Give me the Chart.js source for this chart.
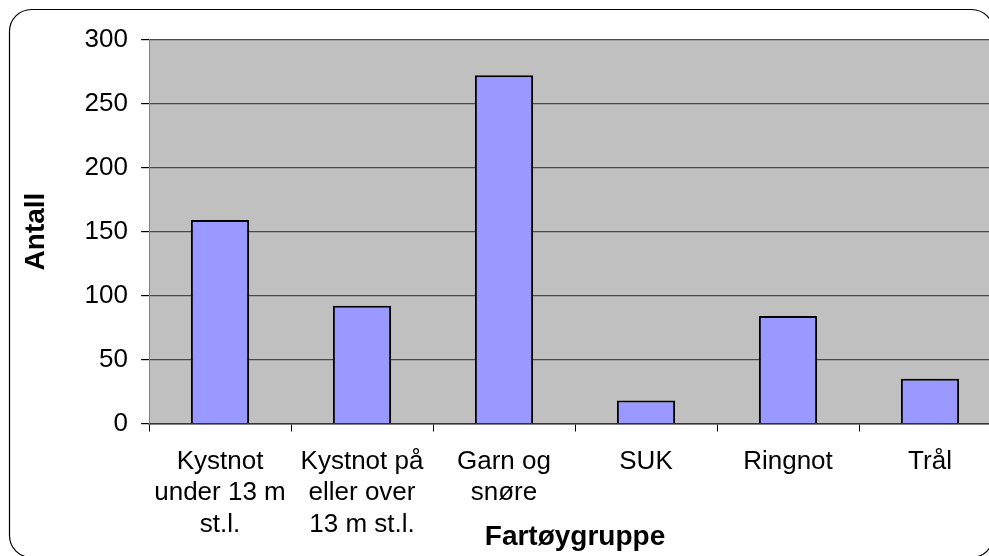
<!DOCTYPE html>
<html>
<head>
<meta charset="utf-8">
<script src="https://cdn.jsdelivr.net/npm/chart.js@4"></script>
<style>
  html, body { margin: 0; padding: 0; background: #fff; overflow: hidden; }
  .wrap { width: 1010px; height: 556px; }
</style>
</head>
<body>
<div class="wrap"><canvas id="myChart" width="1010" height="556"></canvas></div>
<script>
const categories = [
  ['Kystnot', 'under 13 m', 'st.l.'],
  ['Kystnot på', 'eller over', '13 m st.l.'],
  ['Garn og', 'snøre'],
  'SUK',
  'Ringnot',
  'Trål'
];
const antall = [159, 92, 272, 18, 84, 35];
const yTicks = [0, 50, 100, 150, 200, 250, 300];

// rounded frame + grey plot area
const backdrop = {
  id: 'backdrop',
  beforeDraw(chart) {
    const ctx = chart.ctx;
    const a = chart.chartArea;
    ctx.save();
    ctx.fillStyle = '#ffffff';
    ctx.fillRect(0, 0, chart.width, chart.height);
    ctx.beginPath();
    ctx.roundRect(9.5, 9.5, 984, 548, 22);
    ctx.strokeStyle = '#000000';
    ctx.lineWidth = 1.2;
    ctx.stroke();
    ctx.fillStyle = '#c0c0c0';
    ctx.fillRect(a.left, a.top, a.right - a.left, a.bottom - a.top);
    ctx.restore();
  }
};

Chart.defaults.color = '#000';
Chart.defaults.font.family = '"Liberation Sans", Arial, sans-serif';

const data = {
  labels: categories,
  datasets: [{
    label: 'Antall',
    data: antall,
    backgroundColor: '#9999ff',
    borderColor: '#000000',
    borderWidth: 2,
    categoryPercentage: 1,
    barPercentage: 0.41
  }]
};

const config = {
  type: 'bar',
  data: data,
  plugins: [backdrop],
  options: {
    responsive: false,
    animation: false,
    devicePixelRatio: 1,
    layout: {
      padding: { top: 39.5, right: 9, left: 0, bottom: 0 }
    },
    scales: {
      x: {
        afterFit: (scale) => { scale.height = 132.5; },
        grid: {
          offset: true,
          drawOnChartArea: false,
          drawTicks: true,
          tickLength: 8,
          color: '#000'
        },
        border: { display: true, color: '#333', width: 1.5 },
        ticks: {
          padding: 15,
          autoSkip: false,
          maxRotation: 0,
          font: { size: 26, lineHeight: 1.2 }
        },
        title: {
          display: true,
          text: 'Fartøygruppe',
          font: { size: 28, weight: 'bold' },
          padding: { top: 0, bottom: 2 }
        }
      },
      y: {
        min: 0,
        max: 300,
        afterFit: (scale) => { scale.width = 149; },
        afterBuildTicks: (scale) => {
          scale.ticks = yTicks.map(v => ({ value: v }));
        },
        grid: {
          color: '#4a4a4a',
          lineWidth: 1.2,
          tickLength: 8,
          tickColor: '#000'
        },
        border: { display: true, color: '#808080', width: 1 },
        ticks: {
          padding: 13,
          font: { size: 26 }
        },
        title: {
          display: true,
          text: 'Antall',
          font: { size: 28, weight: 'bold' },
          padding: { top: 19, bottom: 0 }
        }
      }
    },
    plugins: {
      legend: { display: false },
      tooltip: { enabled: false }
    }
  }
};

let myChart = new Chart(document.getElementById('myChart'), config);
</script>
</body>
</html>
